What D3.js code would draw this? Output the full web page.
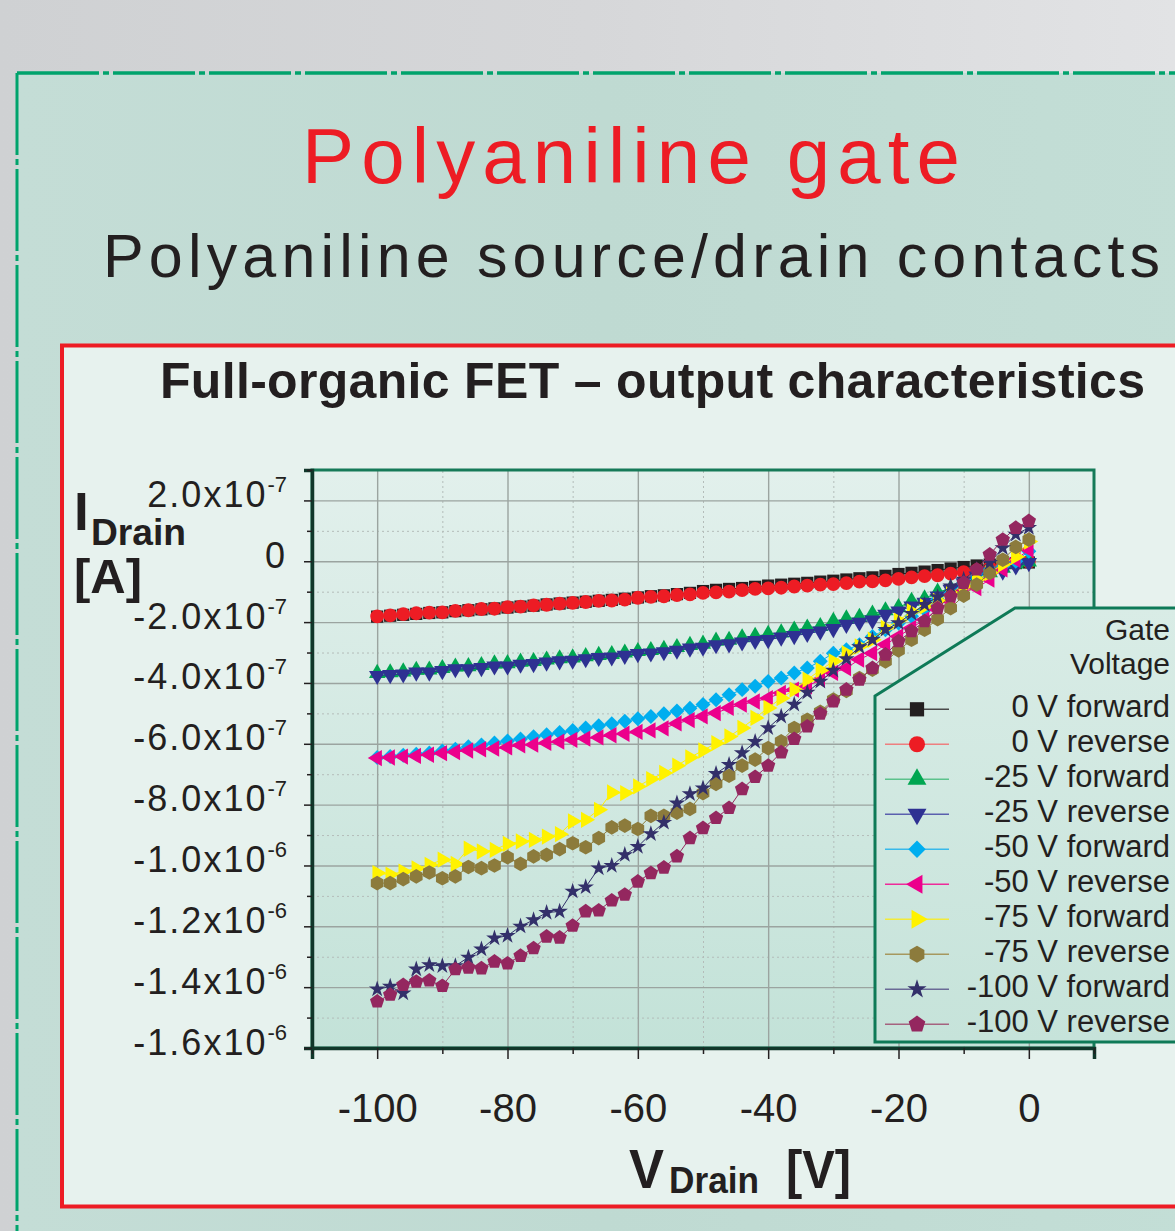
<!DOCTYPE html>
<html><head><meta charset="utf-8">
<script src="https://cdn.jsdelivr.net/npm/d3@7"></script>
<style>body{margin:0;background:#fff}svg{display:block}</style>
</head><body>
<svg id="c" width="1175" height="1231"></svg>
<script>
// ---------------- DATA (current in units of 1e-7 A) ----------------
const drainVoltage = [-100,-98,-96,-94,-92,-90,-88,-86,-84,-82,-80,-78,-76,-74,-72,-70,-68,-66,-64,-62,-60,-58,-56,-54,-52,-50,-48,-46,-44,-42,-40,-38,-36,-34,-32,-30,-28,-26,-24,-22,-20,-18,-16,-14,-12,-10,-8,-6,-4,-2,0];
const currentUnit = 1e-7;
const gate0Forward = [-1.82,-1.79,-1.76,-1.73,-1.70,-1.68,-1.64,-1.61,-1.58,-1.55,-1.52,-1.49,-1.46,-1.42,-1.39,-1.36,-1.33,-1.30,-1.27,-1.23,-1.19,-1.15,-1.12,-1.08,-1.04,-0.98,-0.94,-0.91,-0.88,-0.84,-0.80,-0.77,-0.74,-0.71,-0.67,-0.64,-0.60,-0.56,-0.53,-0.48,-0.42,-0.38,-0.34,-0.29,-0.24,-0.19,-0.14,-0.11,-0.08,-0.06,-0.04];
const gate0Reverse = [-1.81,-1.78,-1.74,-1.71,-1.69,-1.68,-1.63,-1.61,-1.57,-1.56,-1.51,-1.49,-1.45,-1.43,-1.39,-1.37,-1.34,-1.30,-1.29,-1.26,-1.20,-1.17,-1.15,-1.11,-1.09,-1.04,-1.02,-1.00,-0.95,-0.91,-0.89,-0.87,-0.83,-0.80,-0.77,-0.75,-0.72,-0.67,-0.66,-0.63,-0.58,-0.53,-0.49,-0.46,-0.41,-0.36,-0.29,-0.21,-0.14,-0.07,-0.02];
const gate25Forward = [-3.68,-3.66,-3.63,-3.58,-3.57,-3.52,-3.47,-3.46,-3.42,-3.37,-3.36,-3.31,-3.29,-3.24,-3.20,-3.17,-3.13,-3.09,-3.06,-3.01,-2.96,-2.93,-2.89,-2.83,-2.76,-2.72,-2.62,-2.59,-2.51,-2.46,-2.40,-2.35,-2.26,-2.19,-2.14,-1.97,-1.89,-1.84,-1.73,-1.62,-1.52,-1.31,-1.23,-1.01,-0.90,-0.72,-0.50,-0.37,-0.22,-0.08,-0.02];
const gate25Reverse = [-3.76,-3.73,-3.71,-3.65,-3.65,-3.60,-3.54,-3.54,-3.50,-3.45,-3.45,-3.39,-3.37,-3.32,-3.28,-3.26,-3.21,-3.17,-3.15,-3.10,-3.04,-3.02,-2.98,-2.93,-2.86,-2.83,-2.75,-2.72,-2.66,-2.61,-2.58,-2.50,-2.45,-2.38,-2.30,-2.22,-2.08,-2.01,-1.94,-1.75,-1.64,-1.48,-1.35,-1.15,-0.93,-0.71,-0.49,-0.38,-0.33,-0.16,-0.05];
const gate50Forward = [-6.45,-6.42,-6.38,-6.34,-6.30,-6.24,-6.18,-6.10,-6.04,-5.97,-5.91,-5.84,-5.77,-5.70,-5.63,-5.56,-5.48,-5.41,-5.34,-5.26,-5.18,-5.10,-5.01,-4.92,-4.83,-4.71,-4.55,-4.39,-4.22,-4.11,-3.95,-3.84,-3.67,-3.51,-3.29,-3.02,-2.91,-2.74,-2.47,-2.25,-2.03,-1.81,-1.59,-1.26,-1.04,-0.71,-0.49,-0.27,-0.16,0.00,0.33];
const gate50Reverse = [-6.47,-6.45,-6.42,-6.40,-6.36,-6.31,-6.27,-6.22,-6.18,-6.16,-6.12,-6.05,-6.03,-5.97,-5.93,-5.87,-5.83,-5.79,-5.72,-5.67,-5.61,-5.56,-5.49,-5.33,-5.22,-5.10,-4.99,-4.82,-4.71,-4.61,-4.50,-4.33,-4.22,-4.11,-3.89,-3.67,-3.51,-3.23,-3.02,-2.74,-2.47,-2.19,-1.92,-1.59,-1.32,-0.99,-0.88,-0.60,-0.27,0.05,0.38];
const gate75Forward = [-10.25,-10.30,-10.20,-10.10,-9.98,-9.81,-9.95,-9.45,-9.54,-9.49,-9.29,-9.21,-9.16,-9.05,-8.97,-8.55,-8.50,-8.17,-7.60,-7.62,-7.40,-7.16,-6.96,-6.72,-6.45,-6.22,-5.98,-5.76,-5.48,-5.15,-4.82,-4.50,-4.22,-3.89,-3.58,-3.29,-3.02,-2.80,-2.58,-2.19,-1.95,-1.65,-1.48,-1.30,-1.04,-0.82,-0.60,-0.38,-0.10,0.15,0.65];
const gate75Reverse = [-10.58,-10.58,-10.45,-10.36,-10.23,-10.42,-10.36,-10.05,-10.09,-10.00,-9.73,-9.95,-9.70,-9.65,-9.46,-9.27,-9.40,-9.10,-8.75,-8.69,-8.80,-8.37,-8.37,-8.26,-8.14,-7.62,-7.32,-7.05,-6.72,-6.52,-6.14,-5.92,-5.48,-5.21,-4.95,-4.55,-4.26,-3.84,-3.56,-3.29,-2.93,-2.58,-2.25,-1.90,-1.54,-1.13,-0.77,-0.38,0.05,0.47,0.71];
const gate100Forward = [-14.07,-13.98,-14.20,-13.41,-13.27,-13.30,-13.30,-13.02,-12.75,-12.39,-12.31,-12.00,-11.79,-11.55,-11.51,-10.85,-10.71,-10.09,-10.01,-9.65,-9.38,-8.96,-8.59,-7.95,-7.65,-7.46,-6.98,-6.69,-6.30,-5.93,-5.48,-5.10,-4.71,-4.31,-3.95,-3.59,-3.21,-2.82,-2.58,-2.25,-2.03,-1.72,-1.43,-1.17,-0.82,-0.60,-0.27,-0.05,0.44,0.88,1.10];
const gate100Reverse = [-14.47,-14.25,-13.93,-13.82,-13.78,-13.96,-13.41,-13.36,-13.38,-13.16,-13.22,-12.97,-12.72,-12.34,-12.37,-11.98,-11.51,-11.48,-11.15,-10.96,-10.53,-10.25,-10.07,-9.70,-9.10,-8.77,-8.44,-8.11,-7.49,-7.09,-6.72,-6.28,-5.84,-5.43,-5.01,-4.61,-4.22,-3.89,-3.51,-3.07,-2.63,-2.30,-1.97,-1.54,-1.15,-0.71,-0.27,0.22,0.71,1.10,1.32];

const seriesNames = ["0 V forward","0 V reverse","-25 V forward","-25 V reverse","-50 V forward","-50 V reverse","-75 V forward","-75 V reverse","-100 V forward","-100 V reverse"];
const seriesValues = [gate0Forward,gate0Reverse,gate25Forward,gate25Reverse,gate50Forward,gate50Reverse,gate75Forward,gate75Reverse,gate100Forward,gate100Reverse];

const xTickValues = [-100,-80,-60,-40,-20,0];
const xTickLabels = ["-100","-80","-60","-40","-20","0"];
const xMinorTicks = [-110,-90,-70,-50,-30,-10,10];
const yTickValues = [2e-7,0,-2e-7,-4e-7,-6e-7,-8e-7,-1.0e-6,-1.2e-6,-1.4e-6,-1.6e-6];
const yTickMantissa = ["2.0","0","-2.0","-4.0","-6.0","-8.0","-1.0","-1.2","-1.4","-1.6"];
const yTickExponent = ["-7","","-7","-7","-7","-7","-6","-6","-6","-6"];
const yMinorTicks = [3e-7,1e-7,-1e-7,-3e-7,-5e-7,-7e-7,-9e-7,-1.1e-6,-1.3e-6,-1.5e-6];

// ---------------- STYLE ----------------
function polygonType(n){
  return {draw(ctx,size){
    const r=Math.sqrt(size/((n/2)*Math.sin(2*Math.PI/n)));
    for(let k=0;k<n;k++){
      const a=-Math.PI/2+k*2*Math.PI/n;
      const px=r*Math.cos(a),py=r*Math.sin(a);
      if(k===0)ctx.moveTo(px,py);else ctx.lineTo(px,py);
    }
    ctx.closePath();
  }};
}
const styles = [
  {color:"#231f20",line:"#4a4a4a",type:d3.symbolSquare,size:150,rot:0},
  {color:"#ed1c24",line:"#ee7f7f",type:d3.symbolCircle,size:150,rot:0},
  {color:"#00a651",line:"#5cc28c",type:d3.symbolTriangle,size:115,rot:0},
  {color:"#2e3192",line:"#5a5fae",type:d3.symbolTriangle,size:115,rot:180},
  {color:"#00aeef",line:"#38b9ea",type:d3.symbolSquare,size:112,rot:45},
  {color:"#ec008c",line:"#ee2a9a",type:d3.symbolTriangle,size:115,rot:-90},
  {color:"#fff200",line:"#f2ea3a",type:d3.symbolTriangle,size:115,rot:90},
  {color:"#8c7b3c",line:"#a6985e",type:polygonType(6),size:140,rot:0},
  {color:"#33306a",line:"#6a6a96",type:d3.symbolStar,size:85,rot:0},
  {color:"#94275f",line:"#a5627f",type:polygonType(5),size:135,rot:0}
];

const FONT = "'Liberation Sans', Arial, Helvetica, sans-serif";
const INK = "#231f20";
const svg = d3.select("#c");
const defs = svg.append("defs");

function vgrad(id, stops){
  const g = defs.append("linearGradient").attr("id",id).attr("x1",0).attr("y1",0).attr("x2",0).attr("y2",1);
  stops.forEach(s=>g.append("stop").attr("offset",s[0]).attr("stop-color",s[1]));
}
function hgrad(id, stops){
  const g = defs.append("linearGradient").attr("id",id).attr("x1",0).attr("y1",0).attr("x2",1).attr("y2",0);
  stops.forEach(s=>g.append("stop").attr("offset",s[0]).attr("stop-color",s[1]));
}
hgrad("bgGray",[[0,"#cfd1d3"],[0.5,"#d6d7d9"],[1,"#e2e3e5"]]);
hgrad("bgTeal",[[0,"#c4ddd6"],[0.5,"#bfdad2"],[1,"#c3ded6"]]);
vgrad("plotBg",[[0,"#e2f0ec"],[1,"#c3e2d8"]]);
vgrad("legBg",[[0,"#d9ece6"],[1,"#c6e3da"]]);

// page background
svg.append("rect").attr("width",1175).attr("height",1231).attr("fill","url(#bgGray)");
svg.append("rect").attr("x",17).attr("y",73).attr("width",1175).attr("height",1231).attr("fill","url(#bgTeal)");
svg.append("line").attr("x1",17).attr("y1",73).attr("x2",1175).attr("y2",73)
  .attr("stroke","#00a36c").attr("stroke-width",3.5).attr("stroke-dasharray","82,4,6,4");
svg.append("line").attr("x1",17).attr("y1",73).attr("x2",17).attr("y2",1231)
  .attr("stroke","#00a36c").attr("stroke-width",3).attr("stroke-dasharray","82,4,6,4");

// red framed panel
svg.append("rect").attr("x",62).attr("y",345.5).attr("width",1200).attr("height",861)
  .attr("fill","#e7f2ee").attr("stroke","#ed1c24").attr("stroke-width",4);

// titles
svg.append("text").attr("x",302).attr("y",183).attr("textLength",658).attr("lengthAdjust","spacing")
  .attr("font-family",FONT).attr("font-size",78).attr("fill","#ed1c24").text("Polyaniline gate");
svg.append("text").attr("x",103).attr("y",277).attr("textLength",1057).attr("lengthAdjust","spacing")
  .attr("font-family",FONT).attr("font-size",61).attr("fill",INK).text("Polyaniline source/drain contacts");
svg.append("text").attr("x",160).attr("y",398).attr("textLength",985).attr("lengthAdjust","spacing")
  .attr("font-family",FONT).attr("font-size",50).attr("font-weight","bold").attr("fill",INK)
  .text("Full-organic FET \u2013 output characteristics");

// ---------------- PLOT ----------------
const P = {l:312, r:1094, t:470, b:1048};
const x = d3.scaleLinear().domain([-110,10]).range([P.l,P.r]);
const y = d3.scaleLinear().domain([-1.6e-6,3e-7]).range([P.b,P.t]);

svg.append("rect").attr("x",P.l).attr("y",P.t).attr("width",P.r-P.l).attr("height",P.b-P.t).attr("fill","url(#plotBg)");

// grids
const gridG = svg.append("g");
gridG.append("g").attr("transform",`translate(0,${P.b})`)
  .call(d3.axisBottom(x).tickValues(xMinorTicks.slice(1,-1)).tickSize(-(P.b-P.t)).tickFormat(""))
  .call(g=>{g.select(".domain").remove();g.selectAll("line").attr("stroke","#b4bcb9").attr("stroke-width",1).attr("stroke-dasharray","2,3");});
gridG.append("g").attr("transform",`translate(${P.l},0)`)
  .call(d3.axisLeft(y).tickValues(yMinorTicks.slice(1)).tickSize(-(P.r-P.l)).tickFormat(""))
  .call(g=>{g.select(".domain").remove();g.selectAll("line").attr("stroke","#b4bcb9").attr("stroke-width",1).attr("stroke-dasharray","2,3");});
gridG.append("g").attr("transform",`translate(0,${P.b})`)
  .call(d3.axisBottom(x).tickValues(xTickValues).tickSize(-(P.b-P.t)).tickFormat(""))
  .call(g=>{g.select(".domain").remove();g.selectAll("line").attr("stroke","#9ba4a0").attr("stroke-width",1.4);});
gridG.append("g").attr("transform",`translate(${P.l},0)`)
  .call(d3.axisLeft(y).tickValues(yTickValues).tickSize(-(P.r-P.l)).tickFormat(""))
  .call(g=>{g.select(".domain").remove();g.selectAll("line").attr("stroke","#9ba4a0").attr("stroke-width",1.4);});

// series
const lineGen = d3.line().x((d,i)=>x(drainVoltage[i])).y(d=>y(d*currentUnit));
const seriesG = svg.append("g");
seriesValues.forEach((vals,si)=>{
  const st = styles[si];
  const g = seriesG.append("g");
  g.append("path").attr("d",lineGen(vals)).attr("fill","none").attr("stroke",st.color).attr("stroke-width",1);
  const sym = d3.symbol().type(st.type).size(st.size);
  g.selectAll("path.m").data(vals).join("path").attr("class","m")
    .attr("d",sym)
    .attr("transform",(d,i)=>`translate(${x(drainVoltage[i])},${y(d*currentUnit)}) rotate(${st.rot})`)
    .attr("fill",st.color);
});

// frame
svg.append("rect").attr("x",P.l).attr("y",P.t).attr("width",P.r-P.l).attr("height",P.b-P.t)
  .attr("fill","none").attr("stroke","#167a58").attr("stroke-width",3);

// axes
const axX = svg.append("g").attr("transform",`translate(0,${P.b})`)
  .call(d3.axisBottom(x).tickValues(xTickValues).tickSize(11).tickFormat((d,i)=>xTickLabels[i]));
axX.select(".domain").attr("stroke","#10372a").attr("stroke-width",3.5);
axX.selectAll(".tick line").attr("stroke",INK).attr("stroke-width",1.5);
axX.selectAll(".tick text").attr("y",74).attr("dy",0).attr("font-family",FONT).attr("font-size",40).attr("fill",INK);
const axXm = svg.append("g").attr("transform",`translate(0,${P.b})`)
  .call(d3.axisBottom(x).tickValues(xMinorTicks).tickSize(6).tickFormat(""));
axXm.select(".domain").remove();
axXm.selectAll(".tick line").attr("stroke",INK).attr("stroke-width",1.5);

const axY = svg.append("g").attr("transform",`translate(${P.l},0)`)
  .call(d3.axisLeft(y).tickValues(yTickValues).tickSize(8).tickFormat((d,i)=>yTickMantissa[i] + (yTickExponent[i] ? "x10" : "")));
axY.select(".domain").attr("stroke","#10372a").attr("stroke-width",3.5);
axY.selectAll(".tick line").attr("stroke",INK).attr("stroke-width",1.5);
axY.selectAll(".tick text").attr("x",-25).attr("dy","6px").attr("font-family",FONT).attr("font-size",36)
  .attr("letter-spacing",2).attr("fill",INK)
  .each(function(d,i){
    if(yTickExponent[i]){
      d3.select(this).append("tspan").attr("dy","-15px").attr("font-size",22).attr("letter-spacing",0).text(yTickExponent[i]);
    }
  });
const axYm = svg.append("g").attr("transform",`translate(${P.l},0)`)
  .call(d3.axisLeft(y).tickValues(yMinorTicks).tickSize(5).tickFormat(""));
axYm.select(".domain").remove();
axYm.selectAll(".tick line").attr("stroke",INK).attr("stroke-width",1.5);

// axis titles
const yl = svg.append("g").attr("font-family",FONT).attr("font-weight","bold").attr("fill",INK);
yl.append("text").attr("x",74).attr("y",530).attr("font-size",53).text("I");
yl.append("text").attr("x",91).attr("y",545).attr("font-size",37).attr("textLength",95).attr("lengthAdjust","spacingAndGlyphs").text("Drain");
yl.append("text").attr("x",74).attr("y",593).attr("font-size",49).attr("textLength",68).attr("lengthAdjust","spacingAndGlyphs").text("[A]");
const xl = svg.append("g").attr("font-family",FONT).attr("font-weight","bold").attr("fill",INK);
xl.append("text").attr("x",629).attr("y",1188).attr("font-size",56).attr("textLength",35).attr("lengthAdjust","spacingAndGlyphs").text("V");
xl.append("text").attr("x",669).attr("y",1193).attr("font-size",37).attr("textLength",90).attr("lengthAdjust","spacingAndGlyphs").text("Drain");
xl.append("text").attr("x",786).attr("y",1188).attr("font-size",54).attr("textLength",65).attr("lengthAdjust","spacingAndGlyphs").text("[V]");

// ---------------- LEGEND ----------------
const lg = svg.append("g");
lg.append("path").attr("d","M875,696 L1015,608 L1190,608 L1190,1042 L875,1042 Z")
  .attr("fill","url(#legBg)").attr("stroke","#0e7a57").attr("stroke-width",3);
lg.append("text").attr("x",1170).attr("y",640).attr("text-anchor","end").attr("font-family",FONT).attr("font-size",30).attr("fill",INK).text("Gate");
lg.append("text").attr("x",1170).attr("y",674).attr("text-anchor","end").attr("font-family",FONT).attr("font-size",30).attr("fill",INK).text("Voltage");
seriesNames.forEach((name,i)=>{
  const st = styles[i];
  const by = 717.3 + i*35;
  const my = by - 8;
  lg.append("line").attr("x1",885).attr("x2",949).attr("y1",my).attr("y2",my).attr("stroke",st.line).attr("stroke-width",1.6);
  lg.append("path").attr("d",d3.symbol().type(st.type).size(st.size*1.35))
    .attr("transform",`translate(917,${my}) rotate(${st.rot})`).attr("fill",st.color);
  lg.append("text").attr("x",1170).attr("y",by).attr("text-anchor","end").attr("font-family",FONT)
    .attr("font-size",31).attr("fill",INK).text(name);
});
</script>
</body></html>
